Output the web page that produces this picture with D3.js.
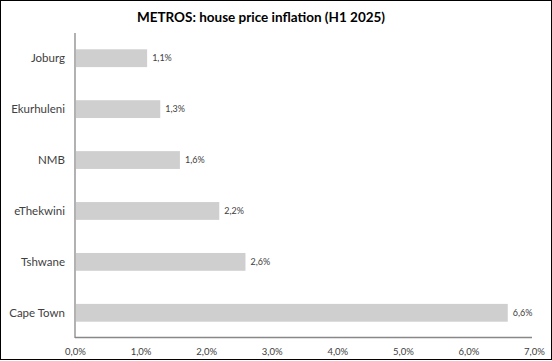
<!DOCTYPE html>
<html lang="en">
<head>
    <meta charset="UTF-8">
    <title>METROS: house price inflation (H1 2025)</title>
    <style>
        body { margin: 0; background: #fff; }
        .cat text { font: 11.5px Lato, sans-serif; fill: #404040; }
        .tick text { font: 9.5px Lato, sans-serif; fill: #404040; }
        .val { font: 9px Lato, sans-serif; fill: #404040; }
    </style>
</head>
<body>
    <div id="chart"></div>
    <script src="https://d3js.org/d3.v7.min.js"></script>
    <script>
        const metros = ["Joburg", "Ekurhuleni", "NMB", "eThekwini", "Tshwane", "Cape Town"];
        const inflation = [1.1, 1.3, 1.6, 2.2, 2.6, 6.6];
        const xTicks = [0, 1, 2, 3, 4, 5, 6, 7];

        const W = 552, H = 361;

        const svg = d3.select("#chart").append("svg")
            .attr("width", W)
            .attr("height", H);

        svg.append("rect")
            .attr("x", 0.5).attr("y", 0.5)
            .attr("width", W - 1).attr("height", H - 2)
            .attr("fill", "#fff")
            .attr("stroke", "#000");

        svg.append("text")
            .attr("x", W / 2 - 15)
            .attr("y", 22)
            .attr("text-anchor", "middle")
            .style("font", "bold 13.5px Lato, sans-serif")
            .attr("fill", "#000")
            .text("METROS: house price inflation (H1 2025)");

        const x = d3.scaleLinear().domain([0, 7]).range([75, 534]);
        const y = d3.scaleBand().domain(metros).range([33, 338]).paddingInner(0.65).paddingOuter(0.32);

        svg.selectAll(".bar")
            .data(metros)
            .enter().append("rect")
            .attr("class", "bar")
            .attr("x", x(0) + 1)
            .attr("y", d => y(d))
            .attr("width", (d, i) => x(inflation[i]) - x(0) - 1)
            .attr("height", y.bandwidth())
            .attr("fill", "#d0cfcf");

        svg.selectAll(".val")
            .data(metros)
            .enter().append("text")
            .attr("class", "val")
            .attr("x", (d, i) => x(inflation[i]) + 5)
            .attr("y", d => y(d) + y.bandwidth() / 2 + 3)
            .text((d, i) => d3.format(".1f")(inflation[i]).replace(".", ",") + "%");

        const cat = svg.append("g").attr("class", "cat");
        cat.selectAll("text")
            .data(metros)
            .enter().append("text")
            .attr("x", 65)
            .attr("y", d => y(d) + y.bandwidth() / 2 + 4)
            .attr("text-anchor", "end")
            .text(d => d);

        // axes lines
        svg.append("line")
            .attr("x1", x(0)).attr("x2", x(0))
            .attr("y1", 33).attr("y2", 338)
            .attr("stroke", "#888").attr("stroke-width", 1.3);
        svg.append("line")
            .attr("x1", x(0)).attr("x2", 532)
            .attr("y1", 337.5).attr("y2", 337.5)
            .attr("stroke", "#888").attr("stroke-width", 1.3);

        const xAxis = svg.append("g")
            .attr("transform", "translate(0,338)")
            .call(d3.axisBottom(x).tickValues(xTicks).tickSize(0).tickPadding(10)
                .tickFormat(d => d3.format(".1f")(d).replace(".", ",") + "%"));
        xAxis.select(".domain").remove();
    </script>
</body>
</html>
